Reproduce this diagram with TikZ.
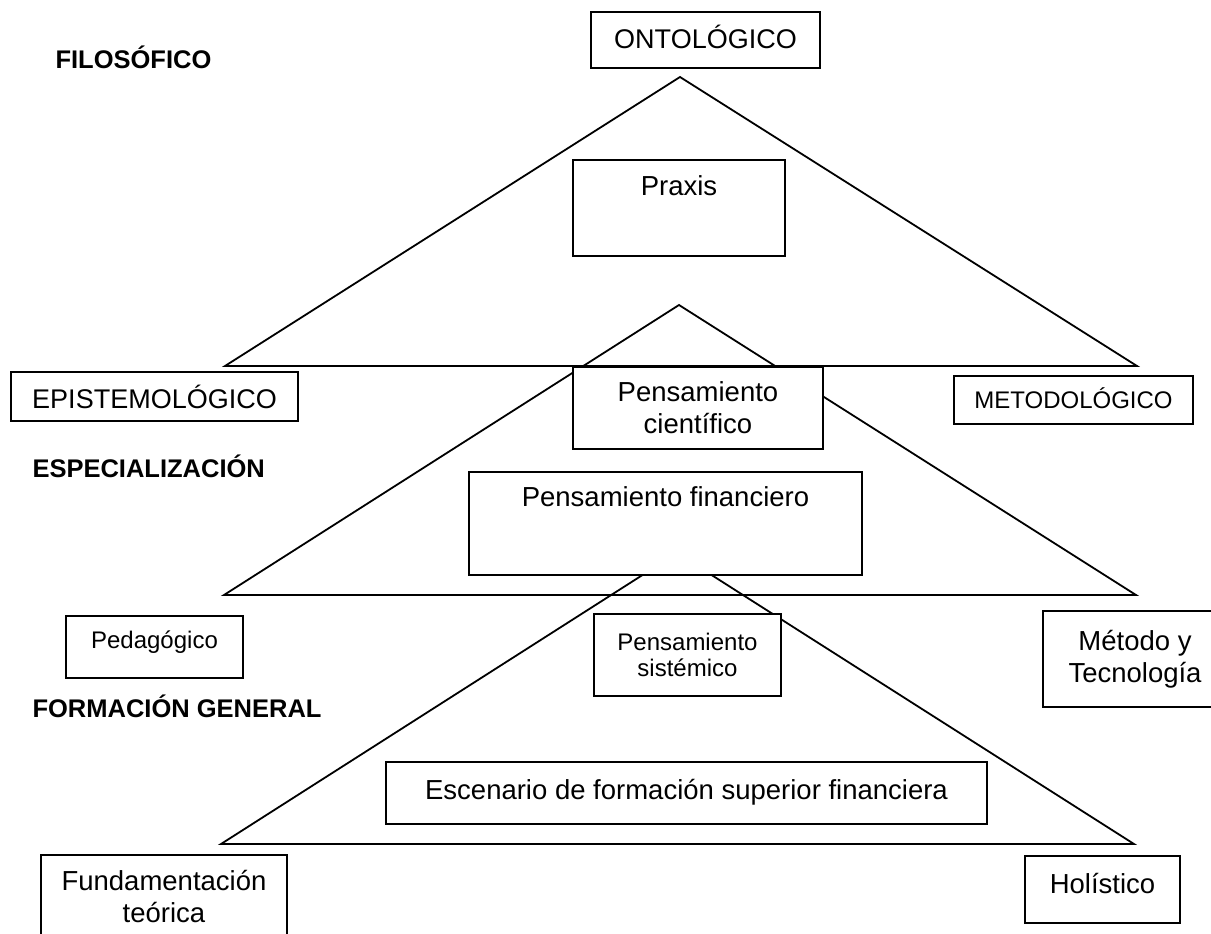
\documentclass[tikz,border=0pt]{standalone}
\usepackage{fontspec}
\setmainfont{Liberation Sans}
\begin{document}
\begin{tikzpicture}[x=1pt,y=-1pt,
  tri/.style={draw, line width=1.8pt, line join=miter},
  box/.style={draw, line width=2pt, fill=white, inner sep=0pt},
  mbox/.style={box, align=center},
  level/.style={anchor=base west, font=\bfseries\fontsize{25.5}{30}\selectfont},
  big/.style={font=\fontsize{27.5}{32}\selectfont},
  mid/.style={font=\fontsize{27}{32}\selectfont},
  small/.style={font=\fontsize{24}{26.5}\selectfont}]
\clip (0,0) rectangle (1211,934);
\fill[white] (0,0) rectangle (1211,934);

% three stacked triangles
\coordinate (t1a) at (680,77);  \coordinate (t1l) at (225,366); \coordinate (t1r) at (1137,366);
\coordinate (t2a) at (679,305); \coordinate (t2l) at (224,595); \coordinate (t2r) at (1136,595);
\coordinate (t3a) at (677,553); \coordinate (t3l) at (221,844); \coordinate (t3r) at (1134,844);
\draw[tri] (t1a) -- (t1l) -- (t1r) -- cycle;
\draw[tri] (t2a) -- (t2l) -- (t2r) -- cycle;
\draw[tri] (t3a) -- (t3l) -- (t3r) -- cycle;

% level headings
\node[level] (filo) at (52,69) {FILOSÓFICO};
\node[level] (espe) at (29,477) {ESPECIALIZACIÓN};
\node[level] (form) at (29,717) {FORMACIÓN GENERAL};

% boxes
\node[box, mid, minimum width=229pt, text height=36.5pt, text depth=19.5pt, anchor=north] (onto) at (705.5,11) {ONTOLÓGICO};
\node[box, big, minimum width=212pt, text height=35pt, text depth=61pt, anchor=north] (praxis) at (679,159) {Praxis};
\node[box, mid, minimum width=287pt, text height=36pt, text depth=13pt, anchor=north] (epis) at (154.5,371) {EPISTEMOLÓGICO};
\node[box, small, minimum width=239pt, text height=32pt, text depth=16pt, anchor=north] (meto) at (1073.5,375) {METODOLÓGICO};
\node[mbox, big, minimum width=250pt, minimum height=82pt] (cient) at (698,408) {Pensamiento\\científico};
\node[box, big, minimum width=393pt, text height=34pt, text depth=69pt, anchor=north] (finan) at (665.5,471) {Pensamiento financiero};
\node[box, small, minimum width=177pt, text height=32pt, text depth=30pt, anchor=north] (peda) at (154.5,615) {Pedagógico};
\node[mbox, small, minimum width=187pt, minimum height=82pt] (siste) at (687.5,655) {Pensamiento\\sistémico};
\node[mbox, big, minimum width=184pt, minimum height=96pt] (metodo) at (1135,659) {Método y\\Tecnología};
\node[box, big, minimum width=601pt, text height=37pt, text depth=25pt, anchor=north] (esce) at (686.5,761) {Escenario de formación superior financiera};
\node[mbox, big, minimum width=246pt, minimum height=83pt] (funda) at (164,896.5) {Fundamentación\\teórica};
\node[box, big, minimum width=155pt, text height=37pt, text depth=30pt, anchor=north] (holi) at (1102.5,855) {Holístico};
\end{tikzpicture}
\end{document}
